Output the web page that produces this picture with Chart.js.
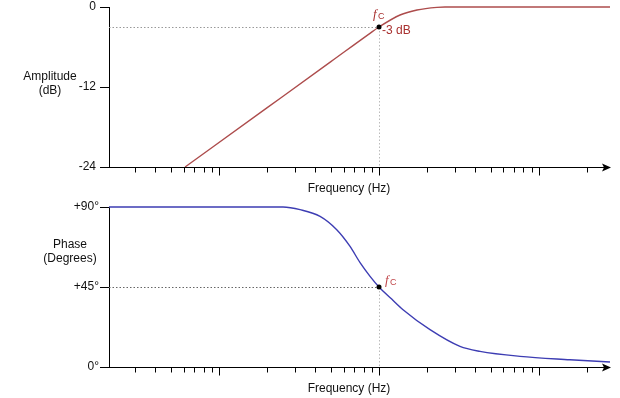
<!DOCTYPE html>
<html>
<head>
<meta charset="utf-8">
<script src="https://cdn.jsdelivr.net/npm/chart.js@4.4.1/dist/chart.umd.min.js"></script>
<style>
  html, body { margin: 0; padding: 0; background: #fff; }
  #wrap { position: relative; width: 620px; height: 398px; }
  #ampBox { position: absolute; left: 0; top: 0; width: 620px; height: 198px; }
  #phaseBox { position: absolute; left: 0; top: 198px; width: 620px; height: 200px; }
</style>
</head>
<body>
<div id="wrap">
  <div id="ampBox"><canvas id="ampChart"></canvas></div>
  <div id="phaseBox"><canvas id="phaseChart"></canvas></div>
</div>
<script>
// frequency axis (Hz, log scale)
var freqMin = 20.5, freqMax = 27800;
var freqTicks = [30, 40, 50, 60, 70, 80, 90, 100, 200, 300, 400, 500, 600, 700, 800, 900,
                 1000, 2000, 3000, 4000, 5000, 6000, 7000, 8000, 9000, 10000, 20000];
var freqMajor = [100, 1000, 10000];
var fc = 1000;

// amplitude (dB)
var ampFreq = [61.3, 200, 500, 878, 1000, 1353, 1727, 2303, 2585, 27800];
var ampDb   = [-24, -15.1, -8.2, -3.95, -3, -1.2, -0.45, -0.05, 0, 0];
var ampTicks = [0, -12, -24];
var fcDb = -3;

// phase (degrees)
var phaseFreq = [20.5, 208, 251, 321, 428, 544, 659, 761, 879, 1000, 1200, 1413, 2084, 3206, 4277, 7605, 15620, 27800];
var phaseDeg  = [90, 90, 90, 88.5, 84.7, 77.2, 67.8, 58.7, 51.0, 45, 38.2, 32.2, 21.0, 11.6, 8.8, 6.0, 4.1, 2.8];
var phaseTicks = [90, 45, 0];
var phaseTickLabels = ['+90°', '+45°', '0°'];
var fcDeg = 45;

var FONT = "'Liberation Sans', Arial, Helvetica, sans-serif";

function toPoints(xs, ys) {
  return xs.map(function (v, i) { return { x: v, y: ys[i] }; });
}

function noPad(s) {
  s.paddingTop = 0; s.paddingBottom = 0; s.paddingLeft = 0; s.paddingRight = 0;
}

function decor(cfg) {
  return {
    id: 'decor',
    beforeDatasetsDraw: function (chart) {
      var ctx = chart.ctx, area = chart.chartArea;
      var px = Math.round(chart.scales.x.getPixelForValue(fc)) + 0.5;
      var py = Math.round(chart.scales.y.getPixelForValue(cfg.fcValue)) + 0.5;
      ctx.save();
      ctx.lineWidth = 1;
      ctx.setLineDash([1.5, 2]);
      ctx.strokeStyle = cfg.hGuide;
      ctx.beginPath(); ctx.moveTo(area.left, py); ctx.lineTo(px, py); ctx.stroke();
      ctx.strokeStyle = cfg.vGuide;
      ctx.beginPath(); ctx.moveTo(px, py); ctx.lineTo(px, area.bottom); ctx.stroke();
      ctx.restore();
    },
    afterDatasetsDraw: function (chart) {
      var ctx = chart.ctx, area = chart.chartArea, xs = chart.scales.x, ys = chart.scales.y;
      var by = Math.round(area.bottom) + 0.5;
      ctx.save();
      // x axis with arrow
      ctx.strokeStyle = '#000';
      ctx.fillStyle = '#000';
      ctx.lineWidth = 1;
      ctx.beginPath(); ctx.moveTo(area.left, by); ctx.lineTo(area.right - 4, by); ctx.stroke();
      ctx.beginPath();
      ctx.moveTo(area.right + 1, by);
      ctx.lineTo(area.right - 8, by - 4);
      ctx.lineTo(area.right - 6, by);
      ctx.lineTo(area.right - 8, by + 4);
      ctx.closePath(); ctx.fill();
      // log ticks
      freqTicks.forEach(function (f) {
        var tx = Math.round(xs.getPixelForValue(f)) + 0.5;
        var len = freqMajor.indexOf(f) >= 0 ? 8 : 5;
        ctx.beginPath(); ctx.moveTo(tx, by); ctx.lineTo(tx, by + len); ctx.stroke();
      });
      // fc point
      var px = xs.getPixelForValue(fc), py = ys.getPixelForValue(cfg.fcValue);
      ctx.beginPath(); ctx.arc(px, py, 2.5, 0, Math.PI * 2); ctx.fill();
      // fc label
      ctx.fillStyle = cfg.fcColor;
      ctx.textBaseline = 'alphabetic';
      ctx.textAlign = 'left';
      ctx.font = "italic 13px 'Liberation Serif', 'DejaVu Serif', serif";
      ctx.fillText('f', px + cfg.fcDx, py + cfg.fcDy);
      ctx.font = '9px ' + FONT;
      ctx.fillText('C', px + cfg.fcDx + 5, py + cfg.fcDy + 1);
      if (cfg.note) {
        ctx.font = '12px ' + FONT;
        ctx.textBaseline = 'middle';
        ctx.fillText(cfg.note, px + 3, py + 4);
      }
      // titles
      ctx.fillStyle = '#111';
      ctx.font = '12px ' + FONT;
      ctx.textAlign = 'center';
      ctx.textBaseline = 'middle';
      ctx.fillText('Frequency (Hz)', 349, by + 21);
      cfg.yTitle.forEach(function (line, i) {
        ctx.fillText(line, cfg.yTitleX, cfg.yTitleY + i * 14);
      });
      ctx.restore();
    }
  };
}

function makeChart(id, cfg) {
  return new Chart(document.getElementById(id), {
    type: 'line',
    data: {
      datasets: [{
        data: toPoints(cfg.xs, cfg.ys),
        borderColor: cfg.color,
        borderWidth: 1.4,
        pointRadius: 0,
        cubicInterpolationMode: 'monotone',
        clip: 4
      }]
    },
    options: {
      responsive: true,
      maintainAspectRatio: false,
      animation: false,
      devicePixelRatio: 1,
      layout: { padding: { left: 0, top: cfg.padTop, right: 10, bottom: 0 } },
      plugins: { legend: { display: false }, tooltip: { enabled: false } },
      scales: {
        x: {
          type: 'logarithmic',
          min: freqMin,
          max: freqMax,
          ticks: { display: false },
          grid: { display: false },
          border: { display: false },
          afterFit: function (s) { s.height = cfg.xHeight; noPad(s); }
        },
        y: {
          min: cfg.yMin,
          max: cfg.yMax,
          afterBuildTicks: function (s) { s.ticks = cfg.yTicks.map(function (v) { return { value: v }; }); },
          afterFit: function (s) { s.width = 109; noPad(s); },
          ticks: {
            color: '#111',
            padding: cfg.tickPad,
            font: { family: FONT, size: 12 },
            callback: function (v) { return cfg.yLabel(v); }
          },
          grid: { drawOnChartArea: false, color: '#000', tickLength: 9, lineWidth: 1 },
          border: { display: true, color: '#000', width: 1 }
        }
      }
    },
    plugins: [decor(cfg)]
  });
}

makeChart('ampChart', {
  xs: ampFreq, ys: ampDb, color: '#ad4c4c',
  yMin: -24, yMax: 0, yTicks: ampTicks,
  yLabel: function (v) { return String(v); },
  tickPad: 4, padTop: 7, xHeight: 31,
  fcValue: fcDb, hGuide: '#999', vGuide: '#bbb',
  fcColor: '#a8302f', fcDx: -6, fcDy: -9, note: '-3 dB',
  yTitle: ['Amplitude', '(dB)'], yTitleX: 50, yTitleY: 77
});

makeChart('phaseChart', {
  xs: phaseFreq, ys: phaseDeg, color: '#3d3db3',
  yMin: 0, yMax: 90, yTicks: phaseTicks,
  yLabel: function (v) { return phaseTickLabels[phaseTicks.indexOf(v)]; },
  tickPad: 1, padTop: 9, xHeight: 31,
  fcValue: fcDeg, hGuide: '#666', vGuide: '#bbb',
  fcColor: '#c0464a', fcDx: 6, fcDy: -3, note: null,
  yTitle: ['Phase', '(Degrees)'], yTitleX: 70, yTitleY: 47
});
</script>
</body>
</html>
